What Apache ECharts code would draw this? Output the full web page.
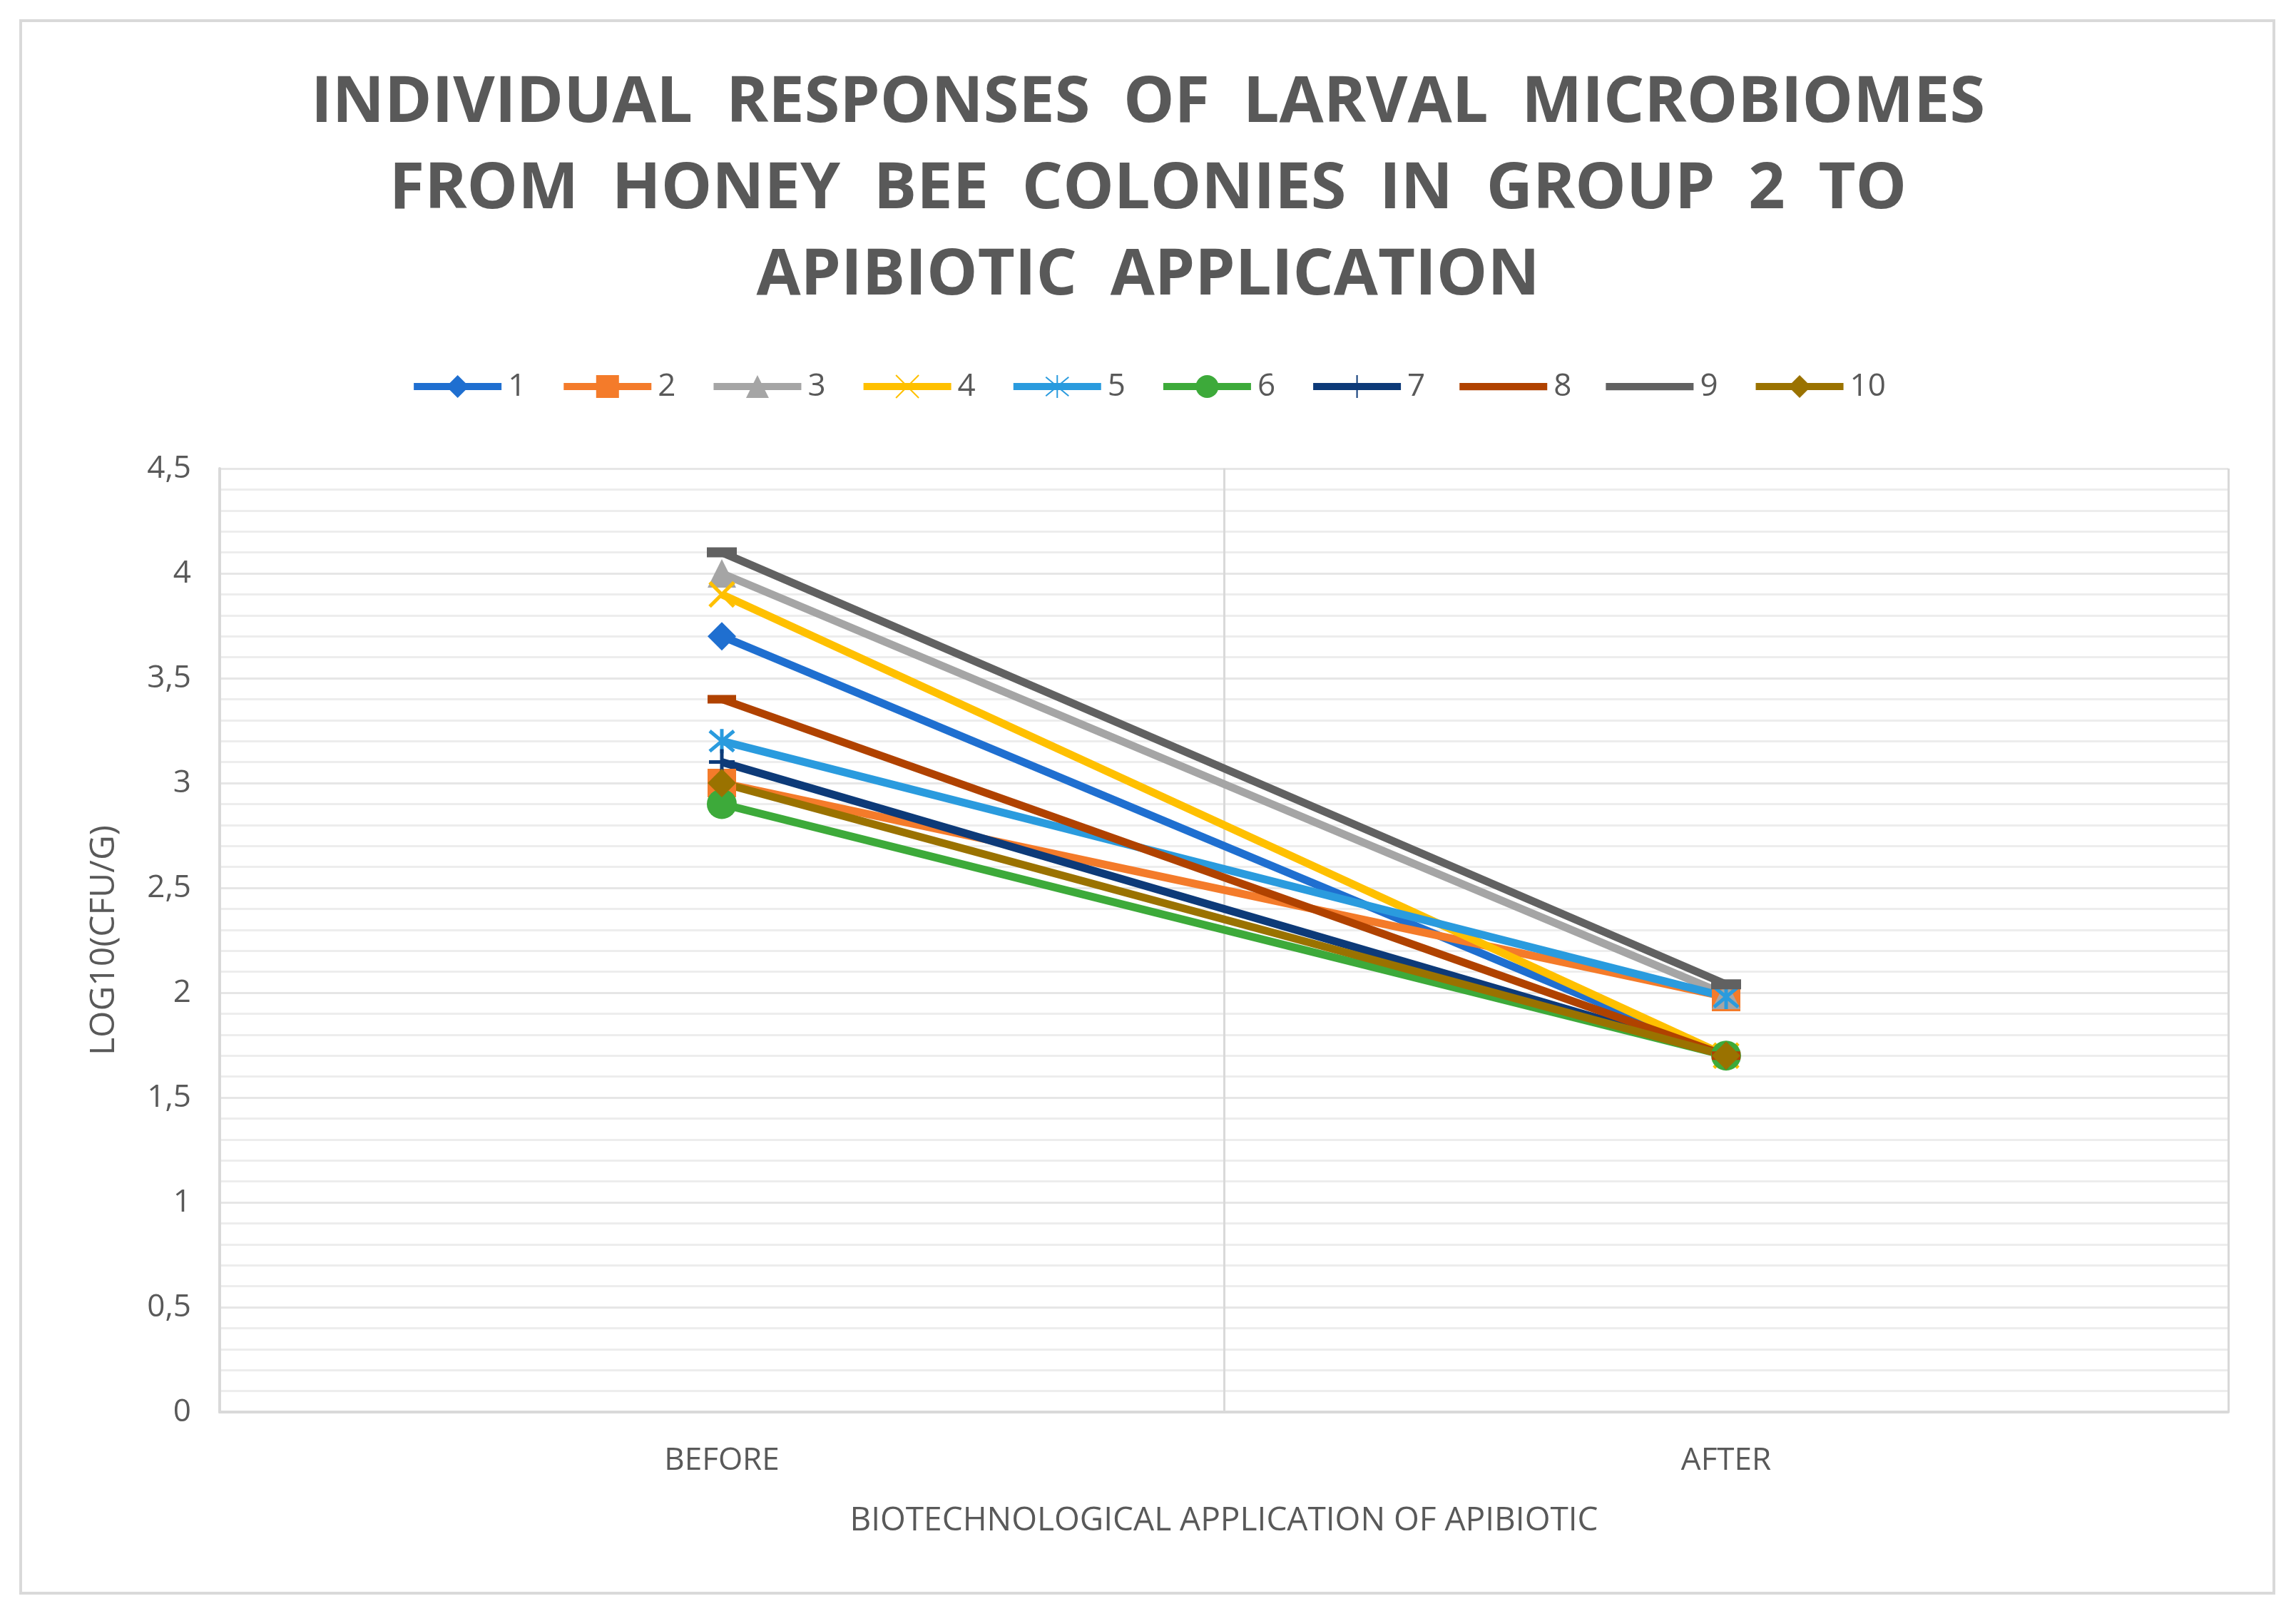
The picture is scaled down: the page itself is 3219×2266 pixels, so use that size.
<!DOCTYPE html>
<html>
<head>
<meta charset="utf-8">
<script src="https://cdn.jsdelivr.net/npm/echarts@6/dist/echarts.min.js"></script>
<style>
html,body{margin:0;padding:0;background:#fff;}
#chart{width:3219px;height:2266px;}
</style>
</head>
<body>
<div id="chart"></div>
<script>
const titleText = 'INDIVIDUAL  RESPONSES  OF  LARVAL  MICROBIOMES\nFROM  HONEY  BEE  COLONIES  IN  GROUP  2  TO\nAPIBIOTIC  APPLICATION';
const categories = ['BEFORE', 'AFTER'];
const seriesNames = ['1', '2', '3', '4', '5', '6', '7', '8', '9', '10'];
const beforeValues = [3.7, 3.0, 4.0, 3.9, 3.2, 2.9, 3.1, 3.4, 4.1, 3.0];
const afterValues  = [1.7, 1.98, 1.99, 1.7, 1.98, 1.7, 1.7, 1.7, 2.04, 1.7];
const yTicks = [0, 0.5, 1, 1.5, 2, 2.5, 3, 3.5, 4, 4.5];

const colors = ['#1F6FD0', '#F47B2A', '#A5A5A5', '#FFC000', '#2A9BDE', '#3DAA3A', '#0D3A78', '#B04200', '#616161', '#9A7200'];
const markers = [
  {symbol: 'diamond', size: 40, bw: 0},
  {symbol: 'rect', size: 40, bw: 0},
  {symbol: 'triangle', size: 40, bw: 0},
  {symbol: 'path://M0,0L10,10M10,0L0,10', size: 34, bw: 5},
  {symbol: 'path://M0,0L10,10M10,0L0,10M5,-1L5,11', size: 34, bw: 5},
  {symbol: 'circle', size: 42, bw: 0},
  {symbol: 'path://M5,0L5,10M0,5L10,5', size: 36, bw: 5},
  {symbol: 'rect', size: [40, 12], bw: 0},
  {symbol: 'rect', size: [42, 14], bw: 0},
  {symbol: 'diamond', size: 40, bw: 0}
];

const FONT = 'Open Sans';
const chart = echarts.init(document.getElementById('chart'));

const series = seriesNames.map((name, i) => ({
  name: name,
  type: 'line',
  data: [beforeValues[i], afterValues[i]],
  symbol: markers[i].symbol,
  symbolSize: markers[i].size,
  showAllSymbol: true,
  lineStyle: {color: colors[i], width: 11},
  itemStyle: {color: colors[i], borderColor: colors[i], borderWidth: markers[i].bw},
  emphasis: {disabled: true},
  animation: false
}));

const legendData = seriesNames.map((name, i) => {
  if (i === 7 || i === 8) {
    return {name: name, icon: 'path://M0,0L120,0L120,10L0,10Z'};
  }
  return {name: name};
});

chart.setOption({
  backgroundColor: '#ffffff',
  animation: false,
  color: colors,
  title: {
    text: titleText,
    left: 'center',
    top: 80,
    textStyle: {
      fontFamily: FONT,
      fontSize: 90,
      fontWeight: 'bold',
      color: '#595959',
      lineHeight: 121
    }
  },
  legend: {
    data: legendData,
    top: 515,
    left: 'center',
    itemWidth: 123,
    itemHeight: 40,
    itemGap: 48,
    lineStyle: {width: 10},
    textStyle: {fontFamily: FONT, fontSize: 44, color: '#595959', padding: [0, 0, 0, 4]}
  },
  grid: {left: 308, right: 95, top: 657, bottom: 286, containLabel: false},
  xAxis: {
    type: 'category',
    data: categories,
    boundaryGap: true,
    name: 'BIOTECHNOLOGICAL APPLICATION OF APIBIOTIC',
    nameLocation: 'middle',
    nameGap: 130,
    nameTextStyle: {fontFamily: FONT, fontSize: 46, color: '#595959'},
    axisLine: {show: true, lineStyle: {color: '#D9D9D9', width: 4}},
    axisTick: {show: false},
    axisLabel: {fontFamily: FONT, fontSize: 44, color: '#595959', margin: 46},
    splitLine: {show: true, lineStyle: {color: '#D9D9D9', width: 3}}
  },
  yAxis: {
    type: 'value',
    min: 0,
    max: 4.5,
    interval: 0.5,
    name: 'LOG10(CFU/G)',
    nameLocation: 'middle',
    nameGap: 138,
    nameRotate: 90,
    nameTextStyle: {fontFamily: FONT, fontSize: 48, color: '#595959'},
    axisLine: {show: true, lineStyle: {color: '#D9D9D9', width: 4}},
    axisTick: {show: false},
    axisLabel: {
      fontFamily: FONT, fontSize: 44, color: '#595959', margin: 40,
      formatter: function (v) {
        const idx = yTicks.indexOf(v);
        const t = idx >= 0 ? yTicks[idx] : v;
        return String(t).replace('.', ',');
      }
    },
    splitLine: {show: true, lineStyle: {color: '#E6E6E6', width: 3}},
    minorTick: {show: false, splitNumber: 5},
    minorSplitLine: {show: true, lineStyle: {color: '#EDEDED', width: 3}}
  },
  graphic: [{
    type: 'rect',
    shape: {x: 29, y: 29, width: 3159, height: 2205},
    style: {fill: 'none', stroke: '#D9D9D9', lineWidth: 4},
    silent: true,
    z: -1
  }],
  series: series
});
</script>
</body>
</html>
